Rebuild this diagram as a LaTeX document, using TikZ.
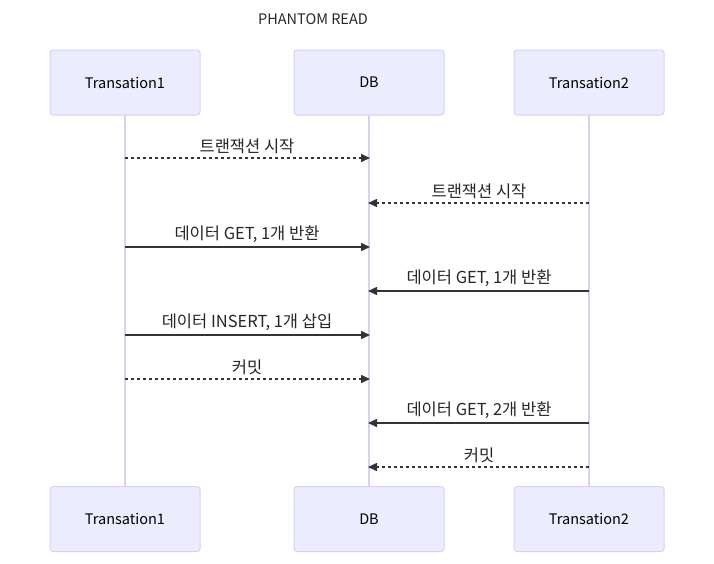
\documentclass[tikz,border=0pt]{standalone}
\usepackage{fontspec}
\setmainfont{Noto Sans CJK KR}
\usetikzlibrary{arrows.meta}
\definecolor{actfill}{HTML}{ECECFF}
\definecolor{actline}{HTML}{D9CFF3}
\definecolor{msgline}{HTML}{333333}
\tikzset{
  actor/.style={draw=actline, fill=actfill, line width=1pt, rounded corners=3pt,
    minimum width=150pt, minimum height=65pt, inner sep=0pt,
    font=\fontsize{14.5}{17}\selectfont},
  life/.style={draw=actline, line width=1.5pt},
  msg/.style={draw=msgline, line width=1.5pt, -{Triangle[length=9pt,width=8pt]}, shorten >=-1pt},
  reply/.style={msg, dash pattern=on 3pt off 3pt},
  lbl/.style={font=\fontsize{14.5}{17}\selectfont, text=black!85, inner sep=0pt},
  mlbl/.style={font=\fontsize{16.5}{19}\selectfont, text=black!85, inner sep=0pt},
}
\begin{document}
\begin{tikzpicture}[x=1pt,y=-1pt]
\useasboundingbox (0,0) rectangle (714,563);
\node[lbl] (title) at (313,19) {PHANTOM READ};
% lifeline coordinates
\coordinate (t1top) at (125,115);
\coordinate (t1bot) at (125,487);
\coordinate (dbtop) at (369,115);
\coordinate (dbbot) at (369,487);
\coordinate (t2top) at (589,115);
\coordinate (t2bot) at (589,487);
\draw[life] (t1top) -- (t1bot);
\draw[life] (dbtop) -- (dbbot);
\draw[life] (t2top) -- (t2bot);
\node[actor] (a1) at (125,82.5) {Transation1};
\node[actor] (a2) at (369,82.5) {DB};
\node[actor] (a3) at (589,82.5) {Transation2};
\node[actor] (b1) at (125,519) {Transation1};
\node[actor] (b2) at (369,519) {DB};
\node[actor] (b3) at (589,519) {Transation2};
% message endpoints
\foreach \i/\y in {1/158,2/203,3/247,4/291,5/335,6/379,7/423,8/467}{
  \coordinate (l\i) at (125,\y);
  \coordinate (d\i) at (369,\y);
  \coordinate (r\i) at (589,\y);
}
\draw[reply] (l1) -- (d1) node[mlbl, midway, above=3.5pt] (m1) {트랜잭션 시작};
\draw[reply] (r2) -- (d2) node[mlbl, midway, above=3.5pt] (m2) {트랜잭션 시작};
\draw[msg] (l3) -- (d3) node[mlbl, midway, above=3.5pt] (m3) {데이터 GET, 1개 반환};
\draw[msg] (r4) -- (d4) node[mlbl, midway, above=3.5pt] (m4) {데이터 GET, 1개 반환};
\draw[msg] (l5) -- (d5) node[mlbl, midway, above=3.5pt] (m5) {데이터 INSERT, 1개 삽입};
\draw[reply] (l6) -- (d6) node[mlbl, midway, above=3.5pt] (m6) {커밋};
\draw[msg] (r7) -- (d7) node[mlbl, midway, above=3.5pt] (m7) {데이터 GET, 2개 반환};
\draw[reply] (r8) -- (d8) node[mlbl, midway, above=3.5pt] (m8) {커밋};
\end{tikzpicture}
\end{document}
